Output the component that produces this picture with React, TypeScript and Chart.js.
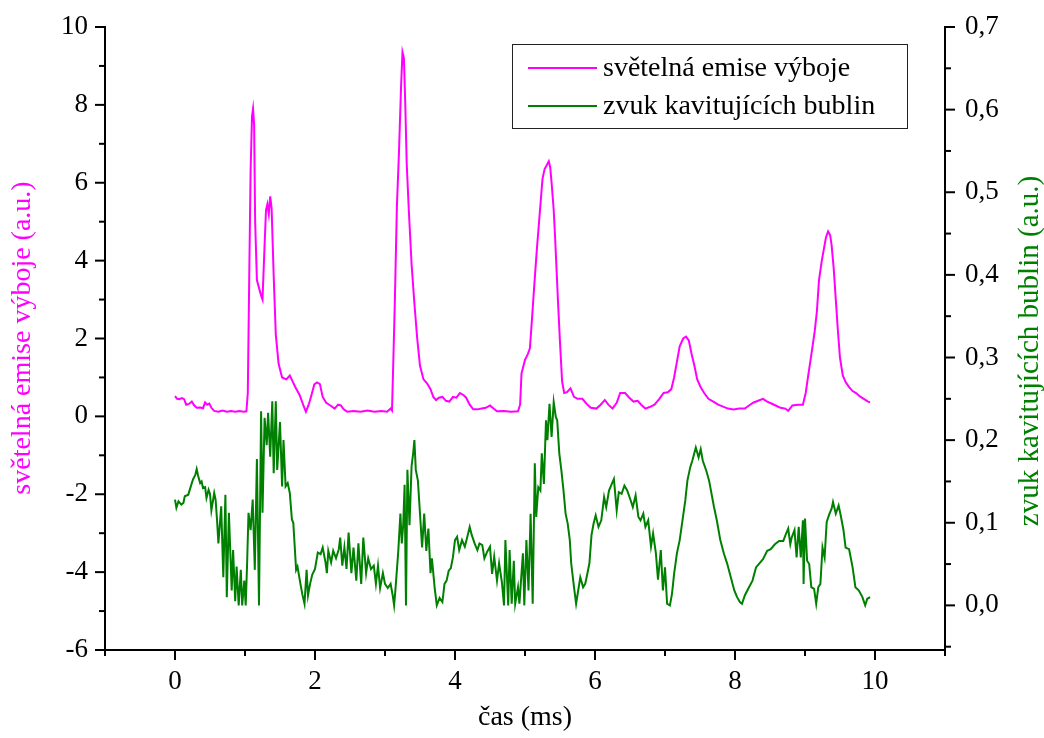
import { useEffect, useRef } from 'react';
import { Chart, registerables } from 'chart.js';

Chart.register(...registerables);

const lightName = 'světelná emise výboje';
const soundName = 'zvuk kavitujících bublin';
const xTitle = 'čas (ms)';
const yTitle = 'světelná emise výboje (a.u.)';
const y2Title = 'zvuk kavitujících bublin (a.u.)';

const xMajor = [0, 2, 4, 6, 8, 10];
const xMinor = [-1, 1, 3, 5, 7, 9, 11];
const yMajor = [-6, -4, -2, 0, 2, 4, 6, 8, 10];
const yMinor = [-5, -3, -1, 1, 3, 5, 7, 9];
const y2Major = [0, 0.1, 0.2, 0.3, 0.4, 0.5, 0.6, 0.7];
const y2Minor = [-0.05, 0.05, 0.15, 0.25, 0.35, 0.45, 0.55, 0.65];

const lightT = [
  0.00, 0.03, 0.06, 0.10, 0.13, 0.16, 0.20, 0.24, 0.27, 0.31, 0.36, 0.40, 0.43, 0.46, 0.49, 0.52, 0.56, 0.62, 0.68, 0.74,
  0.80, 0.86, 0.92, 0.98, 1.02, 1.04, 1.06, 1.08, 1.10, 1.115, 1.13, 1.145, 1.17, 1.20, 1.23, 1.25, 1.28, 1.30, 1.32, 1.34,
  1.36, 1.38, 1.41, 1.44, 1.48, 1.53, 1.59, 1.64, 1.68, 1.72, 1.78, 1.83, 1.87, 1.91, 1.95, 1.99, 2.03, 2.07, 2.11, 2.16,
  2.22, 2.28, 2.33, 2.37, 2.41, 2.46, 2.55, 2.65, 2.75, 2.85, 2.95, 3.03, 3.08, 3.10, 3.12, 3.14, 3.17, 3.20, 3.23, 3.25,
  3.27, 3.29, 3.31, 3.34, 3.38, 3.42, 3.46, 3.50, 3.55, 3.60, 3.65, 3.69, 3.73, 3.77, 3.82, 3.87, 3.92, 3.97, 4.02, 4.07,
  4.12, 4.16, 4.21, 4.26, 4.32, 4.38, 4.44, 4.50, 4.55, 4.60, 4.70, 4.80, 4.90, 4.93, 4.95, 5.00, 5.04, 5.07, 5.10, 5.13,
  5.17, 5.21, 5.25, 5.28, 5.31, 5.34, 5.36, 5.38, 5.41, 5.43, 5.47, 5.50, 5.53, 5.56, 5.60, 5.65, 5.70, 5.75, 5.82, 5.88,
  5.94, 6.02, 6.08, 6.14, 6.19, 6.25, 6.31, 6.36, 6.43, 6.49, 6.55, 6.61, 6.66, 6.72, 6.78, 6.85, 6.92, 6.98, 7.04, 7.09,
  7.13, 7.17, 7.21, 7.26, 7.30, 7.34, 7.38, 7.42, 7.46, 7.51, 7.56, 7.62, 7.69, 7.76, 7.83, 7.90, 7.98, 8.06, 8.14, 8.20,
  8.26, 8.33, 8.40, 8.46, 8.52, 8.58, 8.65, 8.72, 8.76, 8.82, 8.90, 8.97, 9.01, 9.05, 9.10, 9.14, 9.17, 9.20, 9.24, 9.27,
  9.30, 9.33, 9.36, 9.38, 9.41, 9.44, 9.47, 9.50, 9.54, 9.58, 9.63, 9.68, 9.73, 9.78, 9.84, 9.90, 9.93,
];
const lightV = [
  0.52, 0.45, 0.44, 0.47, 0.44, 0.30, 0.32, 0.38, 0.29, 0.22, 0.23, 0.21, 0.36, 0.30, 0.33, 0.22, 0.14, 0.12, 0.15, 0.12,
  0.14, 0.12, 0.14, 0.12, 0.13, 0.6, 3.5, 6.3, 7.7, 7.9, 7.5, 5.0, 3.5, 3.3, 3.1, 3.0, 4.4, 5.3, 5.45, 5.2,
  5.65, 5.35, 3.6, 2.1, 1.35, 1.0, 0.95, 1.05, 0.9, 0.75, 0.55, 0.3, 0.12, 0.3, 0.55, 0.82, 0.87, 0.83, 0.5, 0.35,
  0.28, 0.2, 0.3, 0.28, 0.18, 0.12, 0.14, 0.12, 0.15, 0.12, 0.14, 0.12, 0.2, 0.15, 1.5, 2.9, 5.4, 6.8, 8.5, 9.35,
  9.2, 8.0, 6.5, 5.3, 3.9, 2.9, 2.0, 1.3, 0.95, 0.85, 0.7, 0.5, 0.42, 0.48, 0.5, 0.4, 0.38, 0.5, 0.48, 0.6,
  0.55, 0.48, 0.3, 0.18, 0.18, 0.2, 0.22, 0.28, 0.2, 0.13, 0.14, 0.12, 0.13, 0.3, 1.1, 1.45, 1.6, 1.75, 2.5, 3.3,
  4.3, 5.2, 6.1, 6.35, 6.45, 6.55, 6.4, 6.0, 5.3, 4.6, 3.0, 1.9, 0.9, 0.6, 0.62, 0.72, 0.5, 0.45, 0.45, 0.32,
  0.22, 0.2, 0.3, 0.42, 0.3, 0.2, 0.35, 0.6, 0.6, 0.48, 0.38, 0.4, 0.3, 0.2, 0.24, 0.3, 0.45, 0.6, 0.62, 0.7,
  1.0, 1.4, 1.8, 2.0, 2.05, 1.95, 1.6, 1.3, 0.95, 0.75, 0.6, 0.45, 0.38, 0.3, 0.25, 0.2, 0.18, 0.2, 0.2, 0.28,
  0.35, 0.4, 0.45, 0.38, 0.33, 0.28, 0.22, 0.2, 0.14, 0.28, 0.3, 0.3, 0.6, 1.1, 1.7, 2.2, 2.7, 3.5, 4.0, 4.3,
  4.6, 4.75, 4.65, 4.4, 3.8, 3.0, 2.2, 1.5, 1.05, 0.88, 0.75, 0.65, 0.6, 0.52, 0.45, 0.38, 0.36,
];

const soundT = [
  0.00, 0.02, 0.05, 0.09, 0.12, 0.14, 0.19, 0.24, 0.26, 0.29, 0.31, 0.33, 0.36, 0.38, 0.40, 0.43, 0.45, 0.48, 0.50, 0.52,
  0.56, 0.58, 0.60, 0.62, 0.66, 0.69, 0.72, 0.74, 0.77, 0.81, 0.83, 0.86, 0.88, 0.91, 0.94, 0.96, 0.99, 1.01, 1.03, 1.05,
  1.08, 1.11, 1.14, 1.17, 1.20, 1.23, 1.25, 1.28, 1.31, 1.33, 1.36, 1.39, 1.41, 1.44, 1.46, 1.50, 1.53, 1.55, 1.58, 1.61,
  1.64, 1.67, 1.69, 1.73, 1.75, 1.79, 1.82, 1.85, 1.88, 1.90, 1.93, 1.96, 2.00, 2.04, 2.08, 2.11, 2.15, 2.17, 2.19, 2.23,
  2.26, 2.30, 2.34, 2.36, 2.39, 2.42, 2.45, 2.48, 2.52, 2.55, 2.59, 2.62, 2.66, 2.69, 2.73, 2.76, 2.80, 2.84, 2.87, 2.90,
  2.93, 2.97, 3.00, 3.04, 3.08, 3.11, 3.13, 3.15, 3.19, 3.22, 3.24, 3.26, 3.28, 3.30, 3.32, 3.35, 3.38, 3.40, 3.42, 3.44,
  3.47, 3.50, 3.53, 3.56, 3.59, 3.62, 3.65, 3.67, 3.71, 3.74, 3.78, 3.82, 3.85, 3.88, 3.91, 3.94, 3.97, 4.00, 4.03, 4.06,
  4.10, 4.14, 4.17, 4.21, 4.24, 4.28, 4.32, 4.35, 4.39, 4.42, 4.46, 4.50, 4.53, 4.56, 4.60, 4.63, 4.67, 4.70, 4.72, 4.76,
  4.78, 4.81, 4.84, 4.86, 4.90, 4.92, 4.97, 4.99, 5.02, 5.05, 5.08, 5.11, 5.14, 5.16, 5.19, 5.22, 5.24, 5.27, 5.30, 5.32,
  5.35, 5.38, 5.41, 5.44, 5.46, 5.49, 5.52, 5.55, 5.58, 5.61, 5.64, 5.66, 5.70, 5.73, 5.76, 5.79, 5.83, 5.86, 5.89, 5.92,
  5.95, 5.98, 6.01, 6.05, 6.09, 6.13, 6.16, 6.20, 6.24, 6.27, 6.31, 6.34, 6.38, 6.42, 6.46, 6.51, 6.54, 6.58, 6.62, 6.65,
  6.69, 6.72, 6.76, 6.80, 6.83, 6.87, 6.90, 6.94, 6.97, 7.00, 7.03, 7.07, 7.10, 7.13, 7.17, 7.21, 7.25, 7.29, 7.32, 7.36,
  7.39, 7.44, 7.48, 7.51, 7.54, 7.59, 7.63, 7.70, 7.74, 7.79, 7.84, 7.89, 7.94, 7.99, 8.03, 8.07, 8.10, 8.14, 8.20, 8.25,
  8.30, 8.34, 8.40, 8.46, 8.51, 8.57, 8.63, 8.69, 8.73, 8.76, 8.79, 8.81, 8.85, 8.88, 8.91, 8.94, 8.97, 8.98, 9.00, 9.03,
  9.06, 9.09, 9.13, 9.16, 9.19, 9.22, 9.25, 9.28, 9.31, 9.35, 9.38, 9.40, 9.44, 9.48, 9.51, 9.55, 9.58, 9.63, 9.68, 9.72,
  9.77, 9.82, 9.86, 9.89, 9.93,
];
const soundV = [
  0.128, 0.118, 0.126, 0.122, 0.124, 0.132, 0.134, 0.148, 0.153, 0.158, 0.165, 0.157, 0.148, 0.150, 0.142, 0.143, 0.130, 0.140, 0.135, 0.115,
  0.136, 0.128, 0.104, 0.075, 0.120, 0.034, 0.134, 0.010, 0.112, 0.018, 0.067, 0.005, 0.047, 0.000, 0.043, 0.000, 0.030, 0.000, 0.050, 0.112,
  0.091, 0.128, 0.043, 0.177, 0.000, 0.235, 0.112, 0.227, 0.194, 0.233, 0.180, 0.247, 0.160, 0.247, 0.164, 0.222, 0.144, 0.200, 0.144, 0.148,
  0.136, 0.104, 0.100, 0.043, 0.047, 0.027, 0.013, 0.002, 0.043, 0.012, 0.026, 0.037, 0.044, 0.064, 0.062, 0.070, 0.052, 0.039, 0.066, 0.052,
  0.066, 0.057, 0.068, 0.082, 0.048, 0.070, 0.044, 0.088, 0.039, 0.070, 0.030, 0.075, 0.026, 0.082, 0.039, 0.057, 0.044, 0.048, 0.026, 0.048,
  0.021, 0.039, 0.026, 0.021, 0.026, 0.012, 0.000, 0.020, 0.066, 0.111, 0.075, 0.097, 0.146, 0.000, 0.164, 0.097, 0.169, 0.182, 0.200, 0.164,
  0.151, 0.111, 0.070, 0.111, 0.066, 0.093, 0.039, 0.057, 0.021, 0.000, 0.009, 0.004, 0.026, 0.030, 0.042, 0.045, 0.058, 0.079, 0.083, 0.067,
  0.079, 0.071, 0.081, 0.095, 0.085, 0.075, 0.067, 0.075, 0.073, 0.057, 0.065, 0.071, 0.038, 0.059, 0.030, 0.051, 0.028, 0.000, 0.079, 0.000,
  0.067, 0.002, 0.054, 0.002, 0.022, 0.002, 0.063, 0.000, 0.079, 0.018, 0.111, 0.002, 0.172, 0.107, 0.143, 0.139, 0.184, 0.147, 0.224, 0.200,
  0.244, 0.204, 0.246, 0.228, 0.224, 0.184, 0.163, 0.139, 0.111, 0.099, 0.079, 0.051, 0.022, 0.002, 0.018, 0.034, 0.022, 0.026, 0.038, 0.051,
  0.085, 0.099, 0.109, 0.095, 0.103, 0.131, 0.119, 0.139, 0.147, 0.153, 0.115, 0.137, 0.135, 0.145, 0.139, 0.127, 0.119, 0.133, 0.107, 0.103,
  0.111, 0.095, 0.103, 0.071, 0.087, 0.063, 0.031, 0.067, 0.018, 0.046, 0.002, 0.000, 0.014, 0.038, 0.063, 0.079, 0.103, 0.127, 0.151, 0.167,
  0.175, 0.191, 0.179, 0.189, 0.175, 0.163, 0.151, 0.119, 0.103, 0.079, 0.063, 0.050, 0.034, 0.018, 0.010, 0.004, 0.002, 0.012, 0.022, 0.030,
  0.046, 0.050, 0.056, 0.066, 0.068, 0.074, 0.078, 0.078, 0.087, 0.093, 0.074, 0.082, 0.091, 0.058, 0.095, 0.058, 0.103, 0.026, 0.105, 0.054,
  0.050, 0.022, 0.020, 0.002, 0.022, 0.026, 0.070, 0.058, 0.101, 0.111, 0.117, 0.125, 0.111, 0.121, 0.109, 0.091, 0.070, 0.068, 0.046, 0.022,
  0.018, 0.010, 0.000, 0.008, 0.010,
];

const MAGENTA = '#ff00ff';
const GREEN = '#008000';
const FONT = "'Liberation Serif', 'Times New Roman', serif";

const decorPlugin = {
  id: 'decor',
  afterDraw(chart: any) {
    const { ctx, chartArea, scales } = chart;
    const { left, right, bottom } = chartArea;
    ctx.save();
    ctx.strokeStyle = '#000';
    ctx.lineWidth = 2;
    const seg = (x1: number, y1: number, x2: number, y2: number) => {
      ctx.beginPath();
      ctx.moveTo(x1, y1);
      ctx.lineTo(x2, y2);
      ctx.stroke();
    };
    const MAJ = 10;
    const MIN = 6;
    xMajor.forEach((v) => { const p = scales.x.getPixelForValue(v); seg(p, bottom, p, bottom + MAJ); });
    xMinor.forEach((v) => { const p = scales.x.getPixelForValue(v); seg(p, bottom, p, bottom + MIN); });
    yMajor.forEach((v) => { const p = scales.y.getPixelForValue(v); seg(left, p, left - MAJ, p); });
    yMinor.forEach((v) => { const p = scales.y.getPixelForValue(v); seg(left, p, left - MIN, p); });
    y2Major.forEach((v) => { const p = scales.y2.getPixelForValue(v); seg(right, p, right + MAJ, p); });
    y2Minor.forEach((v) => { const p = scales.y2.getPixelForValue(v); seg(right, p, right + MIN, p); });

    // legend
    ctx.lineWidth = 1;
    ctx.strokeStyle = '#222';
    ctx.strokeRect(512.5, 44.5, 395, 84);
    ctx.lineWidth = 2;
    ctx.strokeStyle = MAGENTA;
    seg(528, 68, 597, 68);
    ctx.strokeStyle = GREEN;
    seg(528, 106, 597, 106);
    ctx.fillStyle = '#000';
    ctx.font = `28px ${FONT}`;
    ctx.textAlign = 'left';
    ctx.textBaseline = 'middle';
    ctx.fillText(lightName, 603, 69);
    ctx.fillText(soundName, 603, 107);

    // axis titles
    ctx.textAlign = 'center';
    ctx.textBaseline = 'middle';
    ctx.fillText(xTitle, (left + right) / 2, 718);
    ctx.save();
    ctx.translate(23, 338);
    ctx.rotate(-Math.PI / 2);
    ctx.fillStyle = MAGENTA;
    ctx.fillText(yTitle, 0, 0);
    ctx.restore();
    ctx.save();
    ctx.font = `29px ${FONT}`;
    ctx.translate(1030, 351);
    ctx.rotate(-Math.PI / 2);
    ctx.fillStyle = GREEN;
    ctx.fillText(y2Title, 0, 0);
    ctx.restore();
    ctx.restore();
  },
};

export default function App() {
  const ref = useRef<HTMLCanvasElement>(null);
  useEffect(() => {
    const tickFont = { family: FONT, size: 27 };
    const border = { display: true, color: '#000', width: 2 };
    const grid = { display: false, drawTicks: false };
    const fitV = (w: number) => (s: any) => {
      s.width = w;
      s.paddingTop = 0;
      s.paddingBottom = 0;
    };
    const chart = new Chart(ref.current!, {
      type: 'line',
      data: {
        datasets: [
          {
            label: lightName,
            data: lightT.map((t, i) => ({ x: t, y: lightV[i] })),
            borderColor: MAGENTA,
            backgroundColor: MAGENTA,
            borderWidth: 2,
            pointRadius: 0,
            tension: 0,
            yAxisID: 'y',
          },
          {
            label: soundName,
            data: soundT.map((t, i) => ({ x: t, y: soundV[i] })),
            borderColor: GREEN,
            backgroundColor: GREEN,
            borderWidth: 2,
            pointRadius: 0,
            tension: 0,
            yAxisID: 'y2',
          },
        ],
      },
      options: {
        animation: false,
        responsive: false,
        devicePixelRatio: 1,
        layout: { padding: { top: 27, left: 0, right: 0, bottom: 0 } },
        plugins: { legend: { display: false }, tooltip: { enabled: false }, title: { display: false } },
        scales: {
          x: {
            type: 'linear',
            position: 'bottom',
            min: -1,
            max: 11,
            grid,
            border,
            afterBuildTicks: (s: any) => { s.ticks = xMajor.map((v) => ({ value: v })); },
            afterFit: (s: any) => { s.height = 88; s.paddingLeft = 0; s.paddingRight = 0; },
            ticks: { font: tickFont, color: '#000', padding: 16, maxRotation: 0, autoSkip: false },
          },
          y: {
            type: 'linear',
            position: 'left',
            min: -6,
            max: 10,
            grid,
            border,
            afterBuildTicks: (s: any) => { s.ticks = yMajor.map((v) => ({ value: v })); },
            afterFit: fitV(105),
            ticks: { font: tickFont, color: '#000', padding: 17, autoSkip: false },
          },
          y2: {
            type: 'linear',
            position: 'right',
            min: -0.054,
            max: 0.7,
            grid,
            border,
            afterBuildTicks: (s: any) => { s.ticks = y2Major.map((v) => ({ value: v })); },
            afterFit: fitV(99),
            ticks: {
              font: tickFont,
              color: '#000',
              padding: 20,
              autoSkip: false,
              callback: (v: any) => Number(v).toFixed(1).replace('.', ','),
            },
          },
        },
      },
      plugins: [decorPlugin],
    } as any);
    return () => chart.destroy();
  }, []);
  return (
    <div style={{ position: 'absolute', left: 0, top: 0, width: 1044, height: 738, background: '#fff' }}>
      <canvas ref={ref} width={1044} height={738} style={{ display: 'block', width: 1044, height: 738 }} />
    </div>
  );
}
